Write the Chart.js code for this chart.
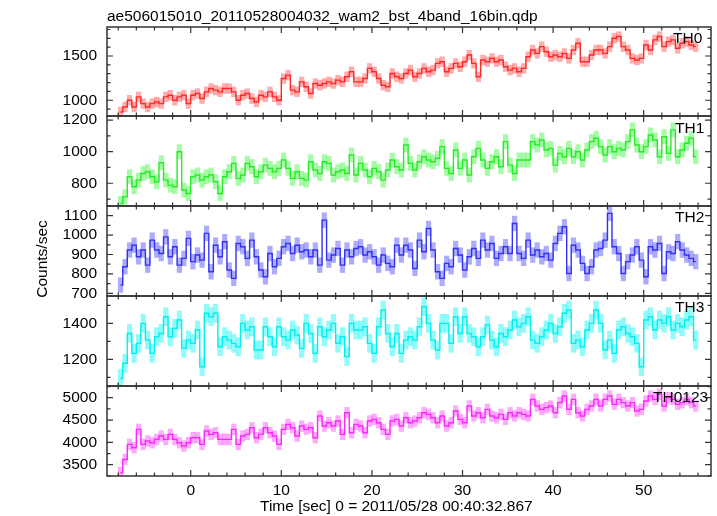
<!DOCTYPE html>
<html>
<head>
<meta charset="utf-8">
<script src="https://cdn.jsdelivr.net/npm/chart.js@4.4.0/dist/chart.umd.min.js"></script>
<style>
    body { margin: 0; background: #fff; }
    #wrap { position: relative; width: 717px; height: 516px; overflow: hidden; font-family: "Liberation Sans", Arial, Helvetica, sans-serif; }
    #wrap canvas { position: absolute; left: 0; }
    .txt { position: absolute; font-size: 15.5px; line-height: 18px; color: #000; white-space: nowrap; z-index: 2; }
    #ylab { width: 120px; text-align: center; transform: rotate(-90deg); }
</style>
</head>
<body>
<div id="wrap">
    <div class="txt" style="left:107px; top:7px;">ae506015010_20110528004032_wam2_bst_4band_16bin.qdp</div>
    <div class="txt" id="ylab" style="left:-18.5px; top:249.5px;">Counts/sec</div>
    <div class="txt" style="left:260px; top:497px;">Time [sec] 0 = 2011/05/28 00:40:32.867</div>
</div>
<script>
    // bins are 0.5 s wide, first bin centred at -7.75 s
    const binStart = -7.75;
    const binWidth = 0.5;

    const th0 = [
        867, 924, 1000, 924, 1038, 962, 924, 962, 980, 962, 1038, 1057, 1000, 1038, 1057, 962,
        1057, 1076, 1019, 1095, 1133, 1114, 1095, 1133, 1133, 1095, 1000, 1057, 1076, 1019, 981, 1057,
        1038, 1095, 1038, 1000, 1246, 1284, 1114, 1095, 1208, 1152, 1076, 1189, 1170, 1189, 1208, 1189,
        1227, 1208, 1265, 1322, 1208, 1208, 1246, 1360, 1322, 1246, 1170, 1152, 1303, 1265, 1246, 1303,
        1341, 1265, 1303, 1360, 1322, 1341, 1417, 1436, 1322, 1360, 1417, 1379, 1436, 1511, 1417, 1265,
        1455, 1436, 1473, 1436, 1455, 1379, 1341, 1360, 1322, 1360, 1492, 1568, 1530, 1606, 1549, 1492,
        1511, 1492, 1530, 1473, 1568, 1644, 1436, 1436, 1511, 1568, 1568, 1530, 1606, 1701, 1720, 1606,
        1568, 1473, 1455, 1473, 1625, 1568, 1682, 1720, 1606, 1663, 1682, 1587, 1644, 1663, 1625, 1606
    ];
    const th1 = [
        672, 714, 841, 778, 820, 862, 873, 841, 810, 930, 820, 788, 778, 1000, 757, 735,
        841, 852, 820, 841, 852, 810, 735, 841, 873, 926, 831, 852, 926, 905, 841, 873,
        915, 894, 873, 894, 947, 894, 831, 873, 831, 820, 936, 884, 862, 936, 926, 852,
        873, 884, 862, 979, 852, 926, 884, 841, 894, 873, 820, 884, 947, 905, 884, 1042,
        926, 884, 936, 968, 947, 936, 958, 1032, 894, 862, 1011, 894, 947, 852, 968, 1021,
        947, 894, 936, 968, 905, 1064, 915, 862, 947, 947, 947, 1064, 1042, 1074, 1011, 1021,
        915, 989, 968, 1021, 968, 1000, 947, 1011, 1064, 1085, 1032, 979, 1032, 1000, 1021, 1011,
        1064, 1138, 1042, 1000, 1032, 1106, 1074, 968, 1095, 989, 1138, 968, 1011, 1053, 1085, 968
    ];
    const th2 = [
        742, 837, 923, 948, 888, 923, 845, 974, 923, 905, 991, 888, 940, 845, 880, 983,
        863, 897, 871, 1009, 811, 948, 888, 966, 820, 777, 957, 940, 880, 974, 888, 820,
        785, 905, 837, 880, 940, 957, 905, 948, 914, 923, 888, 923, 845, 1077, 871, 897,
        931, 845, 923, 888, 931, 940, 897, 914, 888, 845, 897, 854, 837, 948, 897, 948,
        923, 828, 974, 914, 1034, 923, 811, 777, 854, 837, 931, 897, 820, 888, 931, 880,
        974, 923, 957, 880, 905, 940, 905, 1060, 905, 880, 974, 897, 923, 888, 905, 871,
        957, 1009, 1043, 802, 948, 923, 854, 802, 837, 923, 931, 974, 1112, 940, 905, 802,
        863, 897, 940, 871, 785, 940, 923, 957, 802, 914, 905, 966, 923, 897, 880, 863
    ];
    const th3 = [
        1094, 1178, 1344, 1233, 1289, 1400, 1307, 1233, 1326, 1344, 1437, 1326, 1372, 1419, 1261, 1307,
        1289, 1363, 1159, 1456, 1437, 1456, 1270, 1326, 1307, 1289, 1270, 1400, 1363, 1381, 1252, 1252,
        1381, 1326, 1270, 1381, 1326, 1307, 1363, 1335, 1261, 1400, 1344, 1233, 1381, 1326, 1363, 1400,
        1289, 1326, 1215, 1400, 1363, 1363, 1381, 1289, 1233, 1381, 1474, 1344, 1270, 1344, 1233, 1307,
        1326, 1307, 1381, 1493, 1400, 1307, 1252, 1400, 1400, 1289, 1437, 1344, 1437, 1344, 1326, 1270,
        1326, 1391, 1307, 1270, 1344, 1326, 1363, 1419, 1381, 1400, 1437, 1307, 1289, 1326, 1363, 1400,
        1344, 1381, 1456, 1474, 1289, 1307, 1270, 1363, 1400, 1474, 1400, 1252, 1307, 1233, 1363, 1381,
        1344, 1326, 1289, 1159, 1419, 1437, 1363, 1419, 1400, 1437, 1363, 1400, 1381, 1419, 1437, 1307
    ];
    const th0123 = [
        3319, 3618, 3954, 3880, 4291, 3954, 4029, 3992, 4066, 4141, 4066, 4179, 4066, 3992, 3917, 3992,
        4104, 4104, 3954, 4253, 4179, 4216, 4066, 4066, 4066, 4291, 3954, 4141, 4179, 4328, 4104, 4179,
        4328, 4216, 4141, 3954, 4291, 4403, 4328, 4141, 4365, 4291, 4328, 4104, 4590, 4365, 4440, 4365,
        4478, 4179, 4664, 4216, 4403, 4365, 4216, 4478, 4515, 4440, 4291, 4179, 4478, 4515, 4365, 4552,
        4440, 4478, 4552, 4664, 4627, 4552, 4440, 4590, 4365, 4440, 4702, 4515, 4440, 4814, 4590, 4664,
        4552, 4739, 4590, 4552, 4627, 4515, 4664, 4590, 4664, 4627, 4590, 4963, 4814, 4739, 4777, 4814,
        4664, 4889, 5038, 4739, 4963, 4664, 4590, 4739, 4814, 4963, 4814, 4963, 5038, 4851, 4963, 4889,
        4814, 4889, 4702, 4739, 4926, 5038, 4963, 5075, 4814, 5001, 4963, 4851, 4889, 4963, 4889, 4814
    ];

    const panelNames = ['TH0', 'TH1', 'TH2', 'TH3', 'TH0123'];
    const seriesValues = [th0, th1, th2, th3, th0123];
    const seriesErrors = [55, 45, 38, 50, 120];

    const yMin = [822, 656, 686, 1052, 3247];
    const yMax = [1828, 1226, 1150, 1552, 5262];
    const yTickLabels = [
        [1000, 1500],
        [800, 1000, 1200],
        [700, 800, 900, 1000, 1100],
        [1200, 1400],
        [3500, 4000, 4500, 5000]
    ];
    const yMinorStep = [100, 100, 50, 100, 250];
    const xTickLabels = [0, 10, 20, 30, 40, 50];
    const xMin = -9.24;
    const xMax = 57.43;

    const lineColors = ['rgb(255,40,40)', 'rgb(40,235,40)', 'rgb(50,50,245)', 'rgb(0,240,240)', 'rgb(250,40,250)'];
    const bandColors = ['rgba(255,70,70,0.45)', 'rgba(60,245,60,0.45)', 'rgba(70,70,245,0.45)', 'rgba(40,245,245,0.5)', 'rgba(250,70,250,0.45)'];

    // layout of the stacked panels
    const panelEdges = [27, 116, 206, 296, 386, 476];
    const labelPos = [[673, 29], [675, 119], [675, 208], [675, 298], [653, 388]];
    const canvasPad = 24;
    const xAxisHeight = 30;

    Chart.defaults.font.family = '"Liberation Sans", Arial, Helvetica, sans-serif';
    Chart.defaults.font.size = 15.5;
    Chart.defaults.color = '#000';

    // qdp style frame with inward ticks on all four sides
    const framePlugin = {
        id: 'qdpFrame',
        afterDraw(chart, args, opts) {
            const { ctx, chartArea: a } = chart;
            const x = chart.scales.x;
            const y = chart.scales.y;
            ctx.save();
            ctx.strokeStyle = '#333';
            ctx.lineWidth = 1.5;
            ctx.strokeRect(a.left, a.top, a.right - a.left, a.bottom - a.top);
            ctx.lineWidth = 1.2;
            ctx.beginPath();
            for (let t = -8; t <= 56; t += 2) {
                const px = x.getPixelForValue(t);
                const len = t % 10 === 0 ? 6 : 3.5;
                ctx.moveTo(px, a.top);
                ctx.lineTo(px, a.top + len);
                ctx.moveTo(px, a.bottom);
                ctx.lineTo(px, a.bottom - len);
            }
            const step = opts.minor;
            for (let v = Math.ceil(y.min / step) * step; v <= y.max; v += step) {
                const py = y.getPixelForValue(v);
                const len = opts.major.includes(v) ? 6 : 3.5;
                ctx.moveTo(a.left, py);
                ctx.lineTo(a.left + len, py);
                ctx.moveTo(a.right, py);
                ctx.lineTo(a.right - len, py);
            }
            ctx.stroke();
            ctx.restore();
        }
    };

    const wrap = document.getElementById('wrap');

    function makePanel(i) {
        const isLast = i === panelNames.length - 1;
        const areaH = panelEdges[i + 1] - panelEdges[i];
        const cv = document.createElement('canvas');
        cv.width = 717;
        cv.height = canvasPad + areaH + (isLast ? xAxisHeight : canvasPad);
        cv.style.top = (panelEdges[i] - canvasPad) + 'px';
        wrap.appendChild(cv);

        const label = document.createElement('div');
        label.className = 'txt';
        label.style.left = labelPos[i][0] + 'px';
        label.style.top = labelPos[i][1] + 'px';
        label.textContent = panelNames[i];
        wrap.appendChild(label);

        const vals = seriesValues[i];
        const err = seriesErrors[i];
        const linePts = vals.map((v, k) => ({ x: binStart + k * binWidth, y: v }));
        const errPts = vals.map((v, k) => ({ x: binStart + k * binWidth, y: [v - err, v + err] }));

        new Chart(cv, {
            type: 'bar',
            data: {
                datasets: [
                    {
                        type: 'line',
                        label: panelNames[i],
                        data: linePts,
                        stepped: 'middle',
                        borderColor: lineColors[i],
                        borderWidth: 1.4,
                        pointRadius: 0,
                        order: 0
                    },
                    {
                        type: 'bar',
                        label: panelNames[i] + ' err',
                        data: errPts,
                        backgroundColor: bandColors[i],
                        borderWidth: 0,
                        barPercentage: 1,
                        categoryPercentage: 1,
                        order: 1
                    }
                ]
            },
            options: {
                responsive: false,
                maintainAspectRatio: false,
                animation: false,
                events: [],
                layout: { padding: { left: 0, right: 6, top: canvasPad, bottom: isLast ? 0 : canvasPad } },
                plugins: {
                    legend: { display: false },
                    tooltip: { enabled: false },
                    qdpFrame: { minor: yMinorStep[i], major: yTickLabels[i] }
                },
                scales: {
                    x: {
                        type: 'linear',
                        min: xMin,
                        max: xMax,
                        offset: false,
                        display: isLast,
                        grid: { display: false, drawTicks: false },
                        border: { display: false },
                        ticks: { padding: 5, maxRotation: 0, callback: v => String(v) },
                        afterBuildTicks: s => { s.ticks = xTickLabels.map(v => ({ value: v })); },
                        afterFit: s => { s.height = isLast ? xAxisHeight : 0; }
                    },
                    y: {
                        type: 'linear',
                        min: yMin[i],
                        max: yMax[i],
                        grid: { display: false, drawTicks: false },
                        border: { display: false },
                        ticks: { padding: 10, callback: v => String(v) },
                        afterBuildTicks: s => { s.ticks = yTickLabels[i].map(v => ({ value: v })); },
                        afterFit: s => { s.width = 107; }
                    }
                }
            },
            plugins: [framePlugin]
        });
    }

    for (let i = 0; i < panelNames.length; i++) {
        makePanel(i);
    }
</script>
</body>
</html>
